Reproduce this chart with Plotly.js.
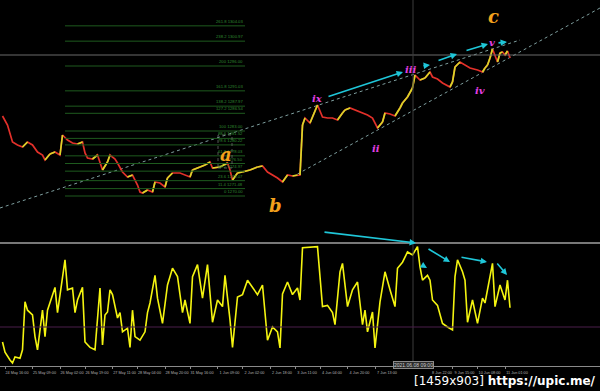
<!DOCTYPE html>
<html><head><meta charset="utf-8">
<script src="https://cdn.plot.ly/plotly-3.0.1.min.js"></script>
<style>html,body{margin:0;padding:0;background:#000;}#chart{width:600px;height:391px;}</style>
</head><body><div id="chart"></div>
<script>
// ---- price (close per bar) ----
const priceBar = [1,3,5,7,9,11,13,15,17,18,20,22,24,25,27,29,31,33,34,35,37,39,41,43,44,46,47,49,51,53,55,56,57,59,61,62,64,66,67,69,72,74,76,77,80,82,84,85,88,91,92,93,95,97,100,103,105,107,109,111,113,115,117,119,120,121,122,124,125,127,129,131,133,135,137,138,140,142,145,147,149,151,153,154,156,158,160,161,163,165,166,168,170,172,173,175,177,180,181,182,184,186,188,191,193,194,195,196,197,199,200,201,202,203,204];
const priceClose = [1286.0,1284.2,1280.8,1280.2,1279.8,1280.8,1280.2,1278.8,1278.2,1277.2,1278.4,1278.8,1278.2,1282.2,1281.2,1280.6,1280.4,1280.8,1278.6,1277.6,1277.4,1278.2,1275.2,1276.8,1278.2,1277.4,1276.6,1274.8,1273.8,1274.2,1272.2,1270.8,1270.6,1271.2,1270.8,1272.8,1272.6,1271.8,1273.6,1274.6,1274.6,1274.2,1273.8,1275.2,1275.8,1276.2,1276.8,1275.6,1275.8,1276.6,1275.2,1273.2,1274.6,1274.8,1275.2,1275.8,1276.0,1274.8,1274.2,1273.6,1272.8,1274.2,1274.0,1274.2,1274.2,1284.2,1285.6,1284.6,1285.8,1288.2,1285.8,1285.6,1285.6,1285.2,1286.6,1287.2,1287.6,1287.2,1286.6,1286.2,1285.6,1283.6,1284.8,1286.6,1286.4,1286.0,1287.6,1288.6,1289.8,1291.6,1294.2,1293.2,1293.6,1294.8,1293.8,1293.4,1292.6,1291.8,1292.8,1295.8,1296.8,1296.2,1295.6,1295.2,1294.8,1295.6,1296.2,1297.6,1299.4,1296.8,1298.6,1298.8,1298.2,1299.0,1297.6];
// ---- oscillator ----
const oscBar = [1,2,4,5,6,8,9,10,11,13,14,15,17,18,19,21,22,23,25,26,27,29,30,31,33,34,36,38,40,41,42,43,44,45,47,48,49,51,52,53,54,56,58,59,60,62,63,65,67,69,71,73,74,76,77,79,81,82,83,85,87,89,90,92,93,95,97,99,101,103,105,107,109,111,112,113,115,117,119,120,121,127,129,131,133,134,136,137,139,141,143,145,146,147,149,150,152,154,156,158,159,161,163,165,167,168,169,171,172,173,175,177,179,181,182,183,185,186,187,189,191,193,194,195,197,198,200,202,203,204];
const oscValue = [17.5,9,2.5,0,5,4,11,51,44,40,22,11,44,22,44,58,63,42,73,86,61,62.5,42,52.5,63,17.5,13,11,62.5,15,40,42.5,61,57,37.5,42,26,29,13,44,22,19,26,42,50,73,54,33,65,79,72,42,52.5,33,72,82,54,69,82,34,52.5,47,73,36,13,55,57,69,62.5,57,65,19,30,26,12.5,57.5,67.5,57,62.5,52.5,96,97,47,48,42,32,76,83,47,61,67.5,32,44,26,42.5,12.5,51,76,61,47,79,84,92.5,90,97,80,69,73,69,52.5,48,33,30,27.5,72,86,76,69,34,52.5,33,54,50,61,83,47,65,52.5,69,46];
const oscLevels = [100, 30];
// ---- fibonacci tool ----
const fibLevel = [0,11.4,23.6,38.2,50,61.8,78.6,88.6,100,127.2,138.2,161.8,200,238.2,261.8];
const fibPrice = [1270.00,1271.48,1273.07,1274.97,1276.50,1278.03,1280.22,1281.52,1283.00,1286.54,1287.97,1291.03,1296.00,1300.97,1304.03];
const fibFromBar = 26, fibToBar = 98;
// ---- trend lines ----
const upperLineBar = [0,208], upperLinePrice = [1267.6,1301.2];
const lowerLineBar = [119,240], lowerLinePrice = [1274.4,1307.6];
const hLinePrice = 1298.2;
const crossBar = 165.2;
// ---- wave labels ----
const waveText = ['a','b','c'];
const waveBar = [90.4,110,197.2];
const wavePrice = [1278.4,1268.2,1306.0];
const subText = ['ix','ii','iii','iv','v'];
const subBar = [126.8,150.4,164.4,192,196.8];
const subPrice = [1289.6,1279.6,1295.4,1291.2,1300.8];
// ---- arrows [fromBar, fromVal, toBar, toVal] ----
const priceArrows = [[130.8,1289.8,161.2,1294.8],[168.8,1296.0,172,1296.2],[174.8,1297.0,182.8,1298.4],[186,1299.0,195.2,1300.4],[198.8,1300.6,202.8,1300.8]];
const oscArrows = [[129.2,109.2,166.4,100],[168.8,81.7,170.8,79.2],[170.8,95.8,180,84.2],[184,88.3,194.8,84.2],[198.4,84.2,202.8,73.3]];
// ---- time axis ----
const tickBar = [2,13,24,34,45,55,66,76,87,97,108,118,128,139,150,172,181,191,202];
const tickText = ['24 May 16:00','25 May 09:00','26 May 02:00','26 May 19:00','27 May 11:00','28 May 04:00','28 May 20:00','31 May 16:00','1 Jun 09:00','2 Jun 02:00','2 Jun 18:00','3 Jun 11:00','4 Jun 04:00','4 Jun 20:00','7 Jun 13:00','8 Jun 22:00','9 Jun 15:00','10 Jun 08:00','11 Jun 01:00'];

const upX = [], upY = [];
for (let i = 1; i < priceBar.length; i++) {
  if (priceClose[i] > priceClose[i-1]) { upX.push(priceBar[i-1], priceBar[i], null); upY.push(priceClose[i-1], priceClose[i], null); }
}

const traces = [
  {x: upperLineBar, y: upperLinePrice, mode:'lines', line:{color:'#7f9f9f', width:1, dash:'dot'}, hoverinfo:'skip'},
  {x: lowerLineBar, y: lowerLinePrice, mode:'lines', line:{color:'#7f9f9f', width:1, dash:'dot'}, hoverinfo:'skip'},
  {x: priceBar, y: priceClose, mode:'lines', line:{color:'#e2302a', width:1.7}},
  {x: upX, y: upY, mode:'lines', line:{color:'#d8d828', width:1.7}, connectgaps:false},
  {x: oscBar, y: oscValue, mode:'lines', xaxis:'x', yaxis:'y2', line:{color:'#f4f410', width:1.6}}
];

const shapes = [];
fibPrice.forEach(p => shapes.push({type:'line', xref:'x', yref:'y', x0:fibFromBar, x1:fibToBar, y0:p, y1:p, line:{color:'#1e5a1e', width:1}}));
shapes.push({type:'line', xref:'paper', yref:'y', x0:0, x1:1, y0:hLinePrice, y1:hLinePrice, line:{color:'#6a6a6a', width:1}});
shapes.push({type:'line', xref:'x', yref:'paper', x0:crossBar, x1:crossBar, y0:25/391, y1:1, line:{color:'#3c3c3c', width:1}});
shapes.push({type:'line', xref:'paper', yref:'y2', x0:0, x1:1, y0:oscLevels[0], y1:oscLevels[0], line:{color:'#a0a0a0', width:1.5}});
shapes.push({type:'line', xref:'paper', yref:'y2', x0:0, x1:1, y0:oscLevels[1], y1:oscLevels[1], line:{color:'#4a1e4a', width:1}});
shapes.push({type:'rect', xref:'x', yref:'y', x0:87.2, x1:92.8, y0:1275.6, y1:1282.2, line:{color:'#6a6a6a', width:0.8, dash:'dot'}});

const ann = [];
fibLevel.forEach((l, i) => ann.push({xref:'x', yref:'y', x:fibToBar, y:fibPrice[i], xanchor:'right', yanchor:'bottom', showarrow:false, text: l + ' ' + fibPrice[i].toFixed(2), font:{family:'Liberation Sans', size:4.2, color:'#2f8a2f'}}));
waveText.forEach((t, i) => ann.push({xref:'x', yref:'y', x:waveBar[i], y:wavePrice[i], showarrow:false, text:t, font:{family:'DejaVu Serif', size:18, color:'#f3a11c', weight:'bold', style:'italic'}}));
subText.forEach((t, i) => ann.push({xref:'x', yref:'y', x:subBar[i], y:subPrice[i], showarrow:false, text:t, font:{family:'DejaVu Serif', size:10, color:'#e23ee2', weight:'bold', style:'italic'}}));
priceArrows.forEach(a => ann.push({xref:'x', yref:'y', axref:'x', ayref:'y', ax:a[0], ay:a[1], x:a[2], y:a[3], text:'', showarrow:true, arrowhead:2, arrowsize:0.8, arrowwidth:1.6, arrowcolor:'#1fc6d8'}));
oscArrows.forEach(a => ann.push({xref:'x', yref:'y2', axref:'x', ayref:'y2', ax:a[0], ay:a[1], x:a[2], y:a[3], text:'', showarrow:true, arrowhead:2, arrowsize:0.8, arrowwidth:1.6, arrowcolor:'#1fc6d8'}));
ann.push({xref:'x', yref:'paper', x:crossBar, y:(391-369)/391, showarrow:false, text:'2021.06.08 09:00', bgcolor:'#2a2a2a', bordercolor:'#8a8a8a', borderwidth:1, borderpad:0, font:{family:'Liberation Sans', size:5, color:'#cfcfcf'}});
ann.push({xref:'paper', yref:'paper', x:0.997, y:(391-381)/391, xanchor:'right', yanchor:'middle', showarrow:false, text:'[1459x903] <b>https://upic.me/</b>', font:{family:'DejaVu Sans', size:12, color:'#ffffff'}});

const layout = {
  width:600, height:391, margin:{l:0, r:0, t:0, b:0},
  paper_bgcolor:'#000', plot_bgcolor:'#000', showlegend:false,
  xaxis:{range:[0,240], domain:[0,1], anchor:'y2', showgrid:false, zeroline:false, showline:true, linecolor:'#8a8a8a', linewidth:1,
         tickmode:'array', tickvals:tickBar, ticktext:tickText, tickangle:0, ticks:'outside', ticklen:2, tickcolor:'#8a8a8a',
         ticklabelshift:12, tickfont:{family:'Liberation Sans', size:3.8, color:'#b0b0b0'}},
  yaxis:{domain:[1-240/391, 1], range:[1261.2, 1309.2], visible:false},
  yaxis2:{domain:[25/391, 1-240/391], range:[-2.5, 102.5], visible:false},
  shapes: shapes, annotations: ann
};
Plotly.newPlot('chart', traces, layout, {staticPlot:true, displayModeBar:false});
</script></body></html>
